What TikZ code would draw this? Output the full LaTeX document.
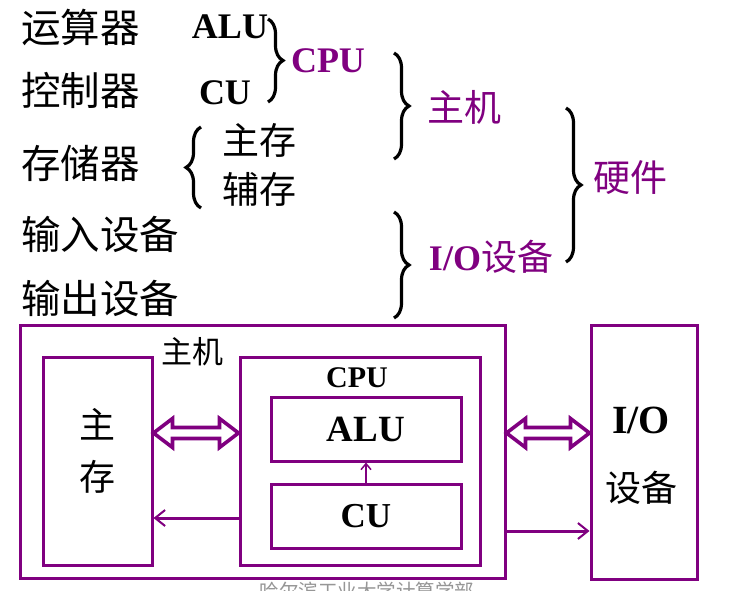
\documentclass[tikz,border=0pt]{standalone}
\usepackage{fontspec}
\setmainfont{Liberation Serif}
\newfontfamily\cjk{Noto Sans CJK SC}
\usetikzlibrary{decorations.pathreplacing,arrows.meta,calc}
\definecolor{vio}{RGB}{128,0,128}
\definecolor{foot}{RGB}{150,150,150}
\newcommand\dblarr[2]{\draw[hollow] (#1) -- ++(19,-14.5) -- ++(0,9) -- ($(#2)+(-19,-5.5)$) -- ++(0,-9) -- (#2) -- ++(-19,14.5) -- ++(0,-9) -- ($(#1)+(19,5.5)$) -- ++(0,9) -- cycle;}
\begin{document}
\begin{tikzpicture}[x=1pt,y=-1pt,
  txt/.style={inner sep=0pt, anchor=center},
  cnl/.style={inner sep=0pt, anchor=west, font=\cjk\fontsize{39.5}{41}\selectfont},
  cnt/.style={txt, font=\cjk\fontsize{37}{40}\selectfont},
  lat/.style={txt, font=\bfseries\fontsize{36}{38}\selectfont},
  pur/.style={text=vio},
  brc/.style={decorate, decoration={brace, amplitude=15pt}, line width=3.2pt, black},
  box/.style={draw=vio, line width=3pt, inner sep=0pt, fill=none},
  hollow/.style={draw=vio, line width=3.6pt, fill=white, line join=miter},
  thinarr/.style={draw=vio, line width=3pt, -{Straight Barb[length=10pt,width=16pt,line width=2pt]}},
]
\path[use as bounding box, clip] (0,0) rectangle (734,591);
\fill[white] (0,0) rectangle (734,591);

% ---- upper classification ----
\node[cnl] (ysq) at (21,27) {运算器};
\node[cnl] (kzq) at (21,90) {控制器};
\node[cnl] (ccq) at (21,163) {存储器};
\node[cnl] (srsb) at (21,234) {输入设备};
\node[cnl] (scsb) at (21,298) {输出设备};

\node[lat] (talu) at (230,27) {ALU};
\node[lat] (tcu) at (225,93) {CU};
\node[cnt] (tzc) at (259,140) {主存};
\node[cnt] (tfc) at (259,189) {辅存};

\node[lat, pur] (tcpu) at (328,61) {CPU};
\node[cnt, pur] (tzj) at (464,107) {主机};
\node[txt, pur] (tio) at (491,257) {\bfseries\fontsize{36}{38}\selectfont I/O\mdseries\cjk 设备};
\node[cnt, pur] (tyj) at (630,178) {硬件};

\coordinate (b1a) at (268,19);  \coordinate (b1b) at (268,102);
\coordinate (b2a) at (201,208); \coordinate (b2b) at (201,127);
\coordinate (b3a) at (394,53);  \coordinate (b3b) at (394,159);
\coordinate (b4a) at (394,212); \coordinate (b4b) at (394,318);
\coordinate (b5a) at (566,108); \coordinate (b5b) at (566,262);
\draw[brc] (b1a) -- (b1b);
\draw[brc] (b2a) -- (b2b);
\draw[brc] (b3a) -- (b3b);
\draw[brc] (b4a) -- (b4b);
\draw[brc] (b5a) -- (b5b);

% ---- block diagram ----
\node[box, minimum width=485pt, minimum height=253pt] (host) at (262.5,451.5) {};
\node[box, minimum width=109pt, minimum height=208pt] (ms) at (97.5,461) {};
\node[box, minimum width=240pt, minimum height=208pt] (cpu) at (360,461) {};
\node[box, minimum width=190pt, minimum height=64pt, font=\bfseries\fontsize{37}{38}\selectfont] (alu) at (366,429) {ALU};
\node[box, minimum width=190pt, minimum height=64pt, font=\bfseries\fontsize{35}{38}\selectfont] (cu) at (366,516) {CU};
\node[box, minimum width=106pt, minimum height=254pt] (io) at (644,452) {};

\node[txt, font=\cjk\fontsize{31}{33}\selectfont] (lzj) at (192,352) {主机};
\node[txt, font=\bfseries\fontsize{30}{32}\selectfont] (lcpu) at (357,378) {CPU};
\node[txt, font=\cjk\fontsize{36}{38}\selectfont] (lz) at (97,424) {主};
\node[txt, font=\cjk\fontsize{36}{38}\selectfont] (lc) at (97,477) {存};
\node[txt, font=\bfseries\fontsize{40}{42}\selectfont] (lio) at (641,420) {I/O};
\node[txt, font=\cjk\fontsize{36}{38}\selectfont] (lsb) at (641,488) {设备};

\coordinate (y1) at (0,433);
\coordinate (a1) at (ms.east |- y1);
\coordinate (a2) at (cpu.west |- y1);
\coordinate (a3) at (host.east |- y1);
\coordinate (a4) at (io.west |- y1);
\dblarr{a1}{a2}
\dblarr{a3}{a4}

\coordinate (y2) at (0,518);
\draw[thinarr] (cpu.west |- y2) -- (ms.east |- y2);
\coordinate (y3) at (0,531);
\draw[thinarr] (host.east |- y3) -- (io.west |- y3);
\draw[draw=vio, line width=2pt, -{Straight Barb[length=6pt,width=10pt,line width=1.5pt]}] (cu.north) -- (alu.south);

\node[txt, text=foot, font=\cjk\fontsize{19.5}{20}\selectfont] (foot) at (367,591) {哈尔滨工业大学计算学部};
\end{tikzpicture}
\end{document}
